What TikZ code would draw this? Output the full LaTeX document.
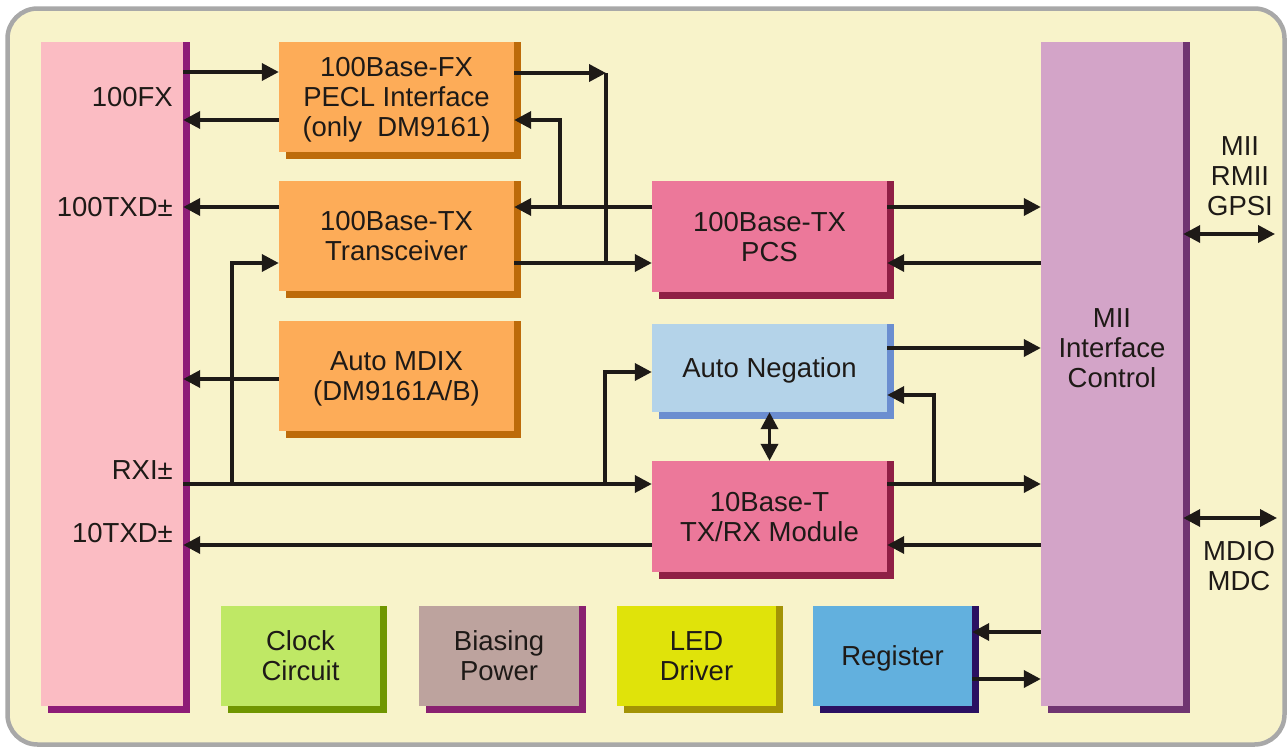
\documentclass[tikz,border=0pt]{standalone}
\usepackage{fontspec}
\setmainfont{Liberation Sans}
\usepackage{tikz}
\usetikzlibrary{arrows.meta,calc}
\pgfdeclarelayer{background}
\pgfsetlayers{background,main}
\definecolor{ink}{HTML}{1E1A17}
\definecolor{cream}{HTML}{F8F3CA}
\definecolor{framegray}{HTML}{A8A8A8}
\definecolor{phypink}{HTML}{FBBCC3}
\definecolor{physhade}{HTML}{8E1C77}
\definecolor{txorange}{HTML}{FDAC58}
\definecolor{txshade}{HTML}{BD6B0A}
\definecolor{pcspink}{HTML}{EC789A}
\definecolor{pcsshade}{HTML}{8F1F45}
\definecolor{anblue}{HTML}{B4D3E9}
\definecolor{anshade}{HTML}{6B8ED0}
\definecolor{miililac}{HTML}{D3A4C8}
\definecolor{miishade}{HTML}{703571}
\definecolor{clkgreen}{HTML}{BFE865}
\definecolor{clkshade}{HTML}{709600}
\definecolor{biasbrown}{HTML}{BDA39E}
\definecolor{biasshade}{HTML}{8A2170}
\definecolor{ledyellow}{HTML}{E0E30A}
\definecolor{ledshade}{HTML}{A39305}
\definecolor{regblue}{HTML}{62B0DE}
\definecolor{regshade}{HTML}{2B1062}
\pgfkeys{tikz/blockbox/.style={fill=#1,inner sep=0pt,align=center,text=ink,text depth=0pt}}
\pgfkeys{tikz/midbox/.style={minimum width=235pt,minimum height=110pt}}
\pgfkeys{tikz/lowbox/.style={minimum width=159pt,minimum height=100pt}}
\pgfkeys{tikz/tallbox/.style={minimum width=142pt,minimum height=664pt}}
\pgfkeys{tikz/arr/.style={draw=ink,line width=3.6pt,-{Triangle[length=17pt,width=17pt]}}}
\pgfkeys{tikz/dblarr/.style={draw=ink,line width=3.6pt,{Triangle[length=17pt,width=17pt]}-{Triangle[length=17pt,width=17pt]}}}
\pgfkeys{tikz/pinlabel/.style={text=ink,inner sep=0pt,align=center}}
\newcommand*\blockshadow[2]{
    \begin{pgfonlayer}{background}
        \fill[#2] ([xshift=7pt]#1.north west) rectangle ([xshift=7pt,yshift=-7pt]#1.south east);
    \end{pgfonlayer}
}
\begin{document}
\begin{tikzpicture}[x=1pt,y=-1pt,font=\fontsize{27.5}{30}\selectfont]
    \useasboundingbox (0,0) rectangle (1287,747);
    \begin{pgfonlayer}{background}
        \draw[line width=4.5pt,draw=framegray,fill=cream,rounded corners=30pt] (7.5,8.5) rectangle (1284.5,744.5);
    \end{pgfonlayer}
    \node[blockbox=phypink,tallbox] (phy) at (112,374) {};
    \node[blockbox=miililac,tallbox] (mii) at (1112,374) {};
    \node[blockbox=txorange,midbox] (fx) at (396.5,97) {100Base-FX\\PECL Interface\\(only\ \ DM9161)};
    \node[blockbox=txorange,midbox] (tx) at (396.5,236) {100Base-TX\\Transceiver};
    \node[blockbox=txorange,midbox] (mdix) at (396.5,376) {Auto MDIX\\(DM9161A/B)};
    \node[blockbox=pcspink,midbox,minimum height=111pt] (pcs) at (769.5,236.5) {100Base-TX\\PCS};
    \node[blockbox=anblue,midbox,minimum height=88pt] (an) at (769.5,368) {Auto Negation};
    \node[blockbox=pcspink,midbox,minimum height=111pt] (tbt) at (769.5,516.5) {10Base-T\\TX/RX Module};
    \node[blockbox=clkgreen,lowbox] (clk) at (300.5,656) {Clock\\Circuit};
    \node[blockbox=biasbrown,lowbox,minimum width=160pt] (bias) at (499,656) {Biasing\\Power};
    \node[blockbox=ledyellow,lowbox] (led) at (696.5,656) {LED\\Driver};
    \node[blockbox=regblue,lowbox] (reg) at (892.5,656) {Register};
    \blockshadow{phy}{physhade}
    \blockshadow{mii}{miishade}
    \blockshadow{fx}{txshade}
    \blockshadow{tx}{txshade}
    \blockshadow{mdix}{txshade}
    \blockshadow{pcs}{pcsshade}
    \blockshadow{an}{anshade}
    \blockshadow{tbt}{pcsshade}
    \blockshadow{clk}{clkshade}
    \blockshadow{bias}{biasshade}
    \blockshadow{led}{ledshade}
    \blockshadow{reg}{regshade}
    \node[pinlabel] (miitext) at ([yshift=26pt]mii.center) {MII\\Interface\\Control};
    \node[pinlabel,anchor=east] (fxpin) at (173,97) {100FX};
    \node[pinlabel,anchor=east] (txpin) at (173,207) {100TXD\textpm};
    \node[pinlabel,anchor=east] (rxpin) at (173,470) {RXI\textpm};
    \node[pinlabel,anchor=east] (tenpin) at (173,533) {10TXD\textpm};
    \node[pinlabel] (miibus) at (1240,176) {MII\\RMII\\GPSI};
    \node[pinlabel] (mdiobus) at (1239,566) {MDIO\\MDC};
    \coordinate (fxjoin) at (606,73);
    \coordinate (fxdrop) at (606,263);
    \coordinate (pcsjoin) at (560,207);
    \coordinate (rxjoin) at (232,484);
    \coordinate (anjoin) at (605,484);
    \coordinate (tbtjoin) at (934,484);
    \coordinate (miiend) at (1275,234);
    \coordinate (mdioend) at (1277,518);
    \draw[arr] (phy.east |- 0,72) -- (fx.west |- 0,72);
    \draw[arr] (fx.west |- 0,120) -- (phy.east |- 0,120);
    \draw[arr] (tx.west |- 0,207) -- (phy.east |- 0,207);
    \draw[arr] (mdix.west |- 0,379) -- (phy.east |- 0,379);
    \draw[arr] (phy.east |- 0,484) -- (tbt.west |- 0,484);
    \draw[arr] (rxjoin) |- (tx.west |- 0,263);
    \draw[arr] (anjoin) |- (an.west |- 0,372);
    \draw[arr] (tbt.west |- 0,545) -- (phy.east |- 0,545);
    \draw[arr] (fx.east |- 0,73) -- (fxjoin);
    \draw[draw=ink,line width=3.6pt] (fxjoin) -- (fxdrop);
    \draw[arr] (tx.east |- 0,263) -- (pcs.west |- 0,263);
    \draw[arr] (pcs.west |- 0,207) -- (tx.east |- 0,207);
    \draw[arr] (pcsjoin) |- (fx.east |- 0,120);
    \draw[arr] (pcs.east |- 0,207) -- (mii.west |- 0,207);
    \draw[arr] (mii.west |- 0,263) -- (pcs.east |- 0,263);
    \draw[arr] (an.east |- 0,348) -- (mii.west |- 0,348);
    \draw[arr] (tbt.east |- 0,484) -- (mii.west |- 0,484);
    \draw[arr] (tbtjoin) |- (an.east |- 0,395);
    \draw[arr] (mii.west |- 0,545) -- (tbt.east |- 0,545);
    \draw[dblarr] (an.south) -- (tbt.north);
    \draw[dblarr] (mii.east |- miiend) -- (miiend);
    \draw[dblarr] (mii.east |- mdioend) -- (mdioend);
    \draw[arr] (mii.west |- 0,632) -- (reg.east |- 0,632);
    \draw[arr] (reg.east |- 0,679) -- (mii.west |- 0,679);
\end{tikzpicture}
\end{document}
